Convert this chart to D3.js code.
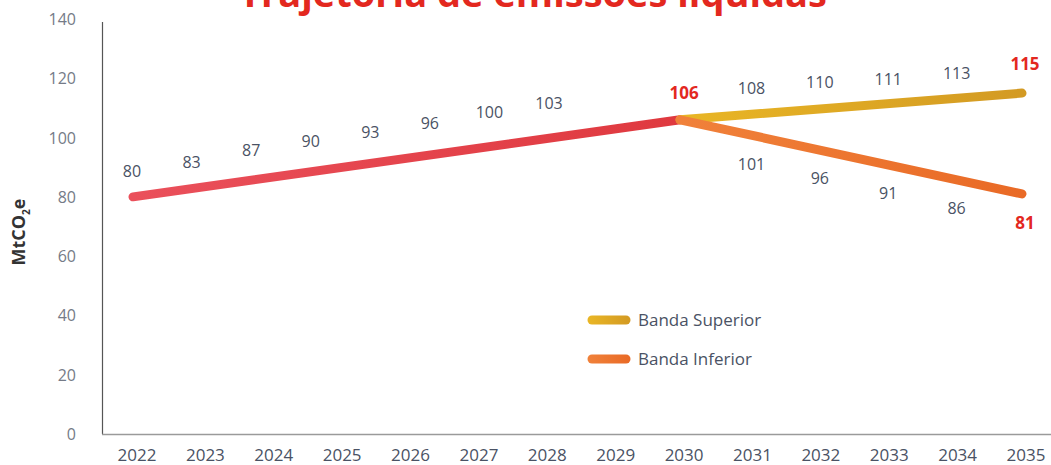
<!DOCTYPE html>
<html>
<head>
<meta charset="utf-8">
<script src="https://cdn.jsdelivr.net/npm/d3@7"></script>
<style>
    body { margin: 0; background: #fff; }
    svg { display: block; font-family: "Open Sans", sans-serif; }
</style>
</head>
<body>
<div id="chart"></div>
<script>
// Data
const years = [2022, 2023, 2024, 2025, 2026, 2027, 2028, 2029, 2030, 2031, 2032, 2033, 2034, 2035];
const histYears = [2022, 2023, 2024, 2025, 2026, 2027, 2028, 2029, 2030];
const histValues = [80, 83, 87, 90, 93, 96, 100, 103, 106];
const bandYears = [2030, 2031, 2032, 2033, 2034, 2035];
const upperValues = [106, 108, 110, 111, 113, 115];
const lowerValues = [106, 101, 96, 91, 86, 81];
const yTicks = [0, 20, 40, 60, 80, 100, 120, 140];
const legendNames = ["Banda Superior", "Banda Inferior"];

const width = 1051;
const height = 465;

const colors = {
    histStart: "#ea505b",
    histEnd: "#df393f",
    upStart: "#e9b625",
    upEnd: "#d39a23",
    lowStart: "#f0813a",
    lowEnd: "#e96a26",
    label: "#4a5264",
    axisText: "#757b87",
    red: "#e3281f",
};

const svg = d3.select("#chart")
    .append("svg")
    .attr("width", width)
    .attr("height", height);

const x = d3.scaleLinear().domain([2022, 2035]).range([133, 1022]);
const y = d3.scaleLinear().domain([0, 140]).range([434, 19]);
// labels of the historic part sit a bit tighter than the years in the original
const histLabelX = d3.scaleLinear().domain([2022, 2029]).range([132, 549]);

// gradients
const defs = svg.append("defs");
const addGradient = (id, c1, c2, x1, x2) => {
    const g = defs.append("linearGradient")
        .attr("id", id)
        .attr("gradientUnits", "userSpaceOnUse")
        .attr("x1", x1).attr("x2", x2)
        .attr("y1", 0).attr("y2", 0);
    g.append("stop").attr("offset", "0%").attr("stop-color", c1);
    g.append("stop").attr("offset", "100%").attr("stop-color", c2);
};
addGradient("gHist", colors.histStart, colors.histEnd, x(2022), x(2030));
addGradient("gUp", colors.upStart, colors.upEnd, x(2030), x(2035));
addGradient("gLow", colors.lowStart, colors.lowEnd, x(2030), x(2035));
addGradient("gUpLeg", colors.upStart, colors.upEnd, 588, 630);
addGradient("gLowLeg", colors.lowStart, colors.lowEnd, 588, 630);

// title (cut at the top in the original)
svg.append("text")
    .attr("x", 533)
    .attr("y", 7)
    .attr("text-anchor", "middle")
    .style("font-size", "38px")
    .style("font-weight", 700)
    .style("fill", colors.red)
    .text("Trajetória de emissões líquidas");

// axes
svg.append("line")
    .attr("x1", 102.5).attr("x2", 102.5)
    .attr("y1", 22).attr("y2", 434)
    .style("stroke", "#555")
    .style("stroke-width", 1.2);
svg.append("line")
    .attr("x1", 102).attr("x2", width)
    .attr("y1", 434.5).attr("y2", 434.5)
    .style("stroke", "#9a9a9a")
    .style("stroke-width", 1.6);

svg.append("g")
    .selectAll("text")
    .data(yTicks)
    .enter()
    .append("text")
    .attr("x", 76)
    .attr("y", (d) => y(d) + 6)
    .attr("text-anchor", "end")
    .style("font-size", "16px")
    .style("fill", colors.axisText)
    .text((d) => d);

svg.append("g")
    .selectAll("text")
    .data(years)
    .enter()
    .append("text")
    .attr("x", (d) => x(d) + 4)
    .attr("y", 461)
    .attr("text-anchor", "middle")
    .style("font-size", "17px")
    .style("fill", colors.label)
    .text((d) => d);

// y title
const yTitle = svg.append("text")
    .attr("transform", "translate(25, 232) rotate(-90)")
    .attr("text-anchor", "middle")
    .style("font-size", "18px")
    .style("font-weight", 700)
    .style("fill", "#333");
yTitle.append("tspan").text("MtCO");
yTitle.append("tspan").attr("dy", 5).style("font-size", "10px").text("2");
yTitle.append("tspan").attr("dy", -5).text("e");

// lines: the original draws each stretch as one straight segment
const line = d3.line()
    .x((d) => x(d[0]))
    .y((d) => y(d[1]));

const drawLine = (yrs, vals, grad) => {
    const pts = yrs.map((yr, i) => [yr, vals[i]]);
    svg.append("path")
        .datum([pts[0], pts[pts.length - 1]])
        .attr("d", line)
        .style("fill", "none")
        .style("stroke", `url(#${grad})`)
        .style("stroke-width", 9)
        .style("stroke-linecap", "round")
        .style("stroke-linejoin", "round");
};
drawLine(histYears, histValues, "gHist");
drawLine(bandYears, upperValues, "gUp");
drawLine(bandYears, lowerValues, "gLow");

// value labels
const labelStyle = (sel, isRed) => sel
    .attr("text-anchor", "middle")
    .style("font-size", isRed ? "17px" : "16px")
    .style("font-weight", isRed ? 700 : 400)
    .style("fill", isRed ? colors.red : colors.label);

histValues.forEach((v, i) => {
    const yr = histYears[i];
    const last = i === histValues.length - 1;
    svg.append("text")
        .attr("x", last ? x(yr) + 4 : histLabelX(yr))
        .attr("y", y(v) - (last ? 21 : 20))
        .call(labelStyle, last)
        .text(v);
});

upperValues.forEach((v, i) => {
    if (i === 0) return;
    const last = i === upperValues.length - 1;
    svg.append("text")
        .attr("x", x(bandYears[i]) + 3)
        .attr("y", y(v) - (last ? 23 : 20))
        .call(labelStyle, last)
        .text(v);
});

lowerValues.forEach((v, i) => {
    if (i === 0) return;
    const last = i === lowerValues.length - 1;
    svg.append("text")
        .attr("x", x(bandYears[i]) + 3)
        .attr("y", y(v) + 35)
        .call(labelStyle, last)
        .text(v);
});

// legend
const legend = svg.append("g");
legendNames.forEach((name, i) => {
    const ly = 320 + i * 39;
    legend.append("line")
        .attr("x1", 592).attr("x2", 626)
        .attr("y1", ly).attr("y2", ly)
        .style("stroke", i === 0 ? "url(#gUpLeg)" : "url(#gLowLeg)")
        .style("stroke-width", 9)
        .style("stroke-linecap", "round");
    legend.append("text")
        .attr("x", 638)
        .attr("y", ly + 6)
        .style("font-size", "17px")
        .style("fill", colors.label)
        .text(name);
});
</script>
</body>
</html>
